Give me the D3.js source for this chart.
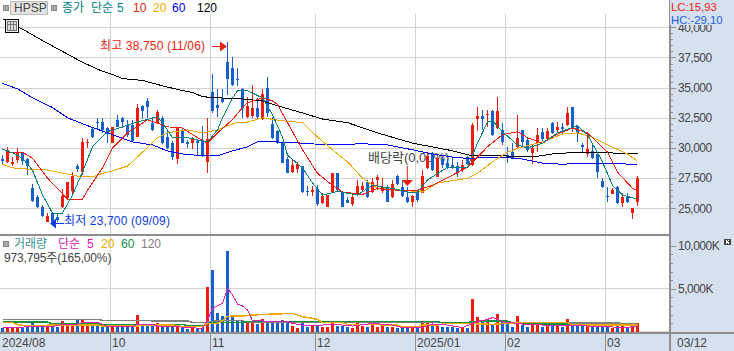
<!DOCTYPE html>
<html>
<head>
<meta charset="utf-8">
<script src="https://cdn.jsdelivr.net/npm/d3@7"></script>
<style>
  html, body { margin: 0; padding: 0; background: #fff; }
  svg { display: block; }
  text { font-family: "Liberation Sans", "Noto Sans CJK KR", sans-serif; font-size: 12px; fill: #444; }
  .crisp { shape-rendering: crispEdges; }
</style>
</head>
<body>
<svg id="chart" width="734" height="351"></svg>
<script>
// daily prices, oldest first
const opens = [29100,28850,28650,29000,29600,29100,26650,25900,25100,23900,24650,24250,25100,25850,26400,28500,28000,30400,31600,32150,32150,31650,30400,32350,32500,31900,31900,30900,33500,33900,32100,32100,32500,30900,30400,29100,31400,30500,30400,30600,30650,28850,34600,33600,34150,37100,36650,35750,34850,32600,32650,33350,32400,35000,32000,31400,30400,29100,28000,28250,28500,26400,26350,26600,25400,25100,26350,27900,26250,25650,25350,26100,26500,27150,26350,27350,26400,26750,25900,27650,26750,25900,25500,26400,26250,28350,29600,27600,29100,28750,28600,28500,28150,29250,28600,32400,32650,32750,33100,31650,31500,29400,29650,30100,31500,30650,29600,30400,31350,30750,32100,31500,31750,31900,33400,31750,30250,29500,29750,29500,27250,26000,26150,26750,25400,26000,24650,25500];
const highs = [29400,30100,29250,30000,29600,29150,27000,26100,25250,24650,24650,24500,26600,27150,28000,28650,30850,30750,31750,32500,32500,31750,31750,32750,32600,32350,32350,33650,33600,34100,32500,33150,32650,31400,30600,31750,31600,30650,30900,30650,31850,32500,36100,34900,34900,38750,37500,36600,35000,34250,35250,34150,34850,35850,32600,31500,30500,29250,29000,28850,28500,26850,26850,26900,26250,26100,27900,27900,26250,25900,26250,27350,27150,27350,27500,27750,27500,26900,27350,27750,27350,26750,26100,26500,28150,29600,29650,29250,29250,29100,29250,28850,29000,29350,32100,33400,33150,33150,33150,34250,32100,30100,30400,32750,31500,30850,30350,31650,31650,31650,32150,32150,32100,33400,33400,31900,30400,31150,30250,29650,27500,26750,26650,26850,26250,26250,25000,27650];
const lows = [28600,28750,28500,28750,28600,27750,25500,25000,24250,23850,23700,23900,25000,25750,26100,28000,27750,30000,30850,31500,31250,30400,30400,31750,31650,30900,30500,30900,32400,32500,31400,32000,30350,29900,29000,28650,30400,30000,29900,29400,29250,27900,32900,32600,33750,34400,35100,35100,32500,32500,32500,32350,32350,32600,30750,30350,28750,27900,27900,27900,26250,26000,26000,25150,25350,25100,26250,26350,25100,25400,25150,26000,26350,25850,26250,26500,26250,25500,25850,26900,25900,25400,25100,25500,26250,28250,28100,27600,28350,28250,28250,27600,28000,28600,28500,31400,31500,31750,31000,31600,30250,28750,29100,30000,30100,29650,28650,29650,30500,30600,31150,31350,31150,31850,31350,30500,29650,29250,29100,27500,26650,25500,26150,25350,25100,25400,24150,25150];
const closes = [28900,29850,28850,29650,28900,28500,25600,25100,24400,24400,23850,24000,26000,27150,27650,28250,30500,30500,30900,32100,31500,31150,31750,31750,32150,31100,30600,33350,33100,33400,31500,33000,30400,30000,29250,31650,30400,30350,30750,30400,29350,30750,33100,33350,33850,35750,35250,35600,33350,33500,33350,32600,34500,32900,30850,30400,28750,27900,28600,28650,26350,26350,26500,25350,26000,26100,27900,26500,25100,25400,25900,26850,26850,25900,27150,27600,26750,25500,27000,27000,26000,25500,26000,25650,27650,29350,28150,29150,28600,28350,28350,28000,28600,28650,31900,32650,32400,32850,31100,33100,30500,29150,29150,30850,30500,29850,30000,31100,30750,31400,31250,31750,31600,32900,31750,31250,30100,29900,29150,28000,26750,25900,26500,25400,25900,25500,25000,27500];

// thousands of shares
const volumes = [470,505,470,470,505,660,1245,660,660,660,585,585,1245,700,855,1440,1440,660,970,1130,585,585,660,505,505,505,505,1945,660,660,660,1050,660,505,585,660,505,310,390,310,390,5250,7190,2215,1865,9410,1945,1360,1360,1165,1165,895,1475,1165,1165,1165,1360,1165,700,465,970,585,700,700,585,585,970,700,700,585,465,1050,700,585,1050,585,700,585,585,465,465,465,465,465,1245,1050,775,775,585,585,585,465,465,465,3810,1750,1280,1165,775,2060,1165,895,505,1825,775,585,775,775,505,660,660,660,505,1475,775,660,775,660,660,660,660,660,430,660,660,430,660,970];

// moving averages as [candle index, value]
const ma5 = [[0,29900],[2,29600],[4,29150],[6,28150],[8,26100],[10,24600],[12,24600],[14,26100],[16,28000],[18,30100],[21,31350],[24,31750],[27,32150],[31,32600],[33,31500],[34,30850],[37,30850],[41,30500],[43,31500],[44,32500],[46,34150],[47,34750],[49,34750],[52,34150],[54,32750],[56,30900],[57,29400],[60,28350],[62,27100],[64,26100],[67,26400],[71,26100],[74,26900],[78,26650],[81,26350],[83,26350],[85,27350],[89,28400],[93,28400],[95,30400],[97,32150],[98,32250],[100,31350],[103,30250],[105,30000],[108,30400],[111,31250],[115,31850],[117,31100],[120,28850],[122,26900],[124,26100],[127,25750]];
const ma10 = [[1,29650],[4,29650],[6,29150],[9,27500],[11,26650],[13,25750],[16,25750],[17,26500],[20,28350],[22,30000],[25,31250],[29,32350],[33,31750],[36,31650],[39,30850],[41,30400],[43,31250],[46,32350],[48,33350],[49,33750],[52,34150],[54,33900],[55,33600],[57,32100],[60,29850],[63,27900],[66,26900],[68,26350],[72,26150],[75,26650],[79,26500],[83,26500],[86,26900],[90,27750],[93,28400],[97,30100],[100,31100],[103,31350],[105,30850],[108,30400],[111,31150],[114,31650],[117,31250],[121,29650],[123,28000],[126,26650],[127,26500]];
const ma20 = [[0,28650],[2,28350],[5,28250],[8,28250],[11,28000],[14,27750],[16,27600],[18,27600],[20,27900],[22,28100],[25,28500],[28,29650],[31,30850],[33,31250],[37,31500],[40,31250],[43,31500],[47,32150],[49,32150],[52,32500],[56,32250],[60,32100],[63,30900],[66,29850],[69,28850],[72,27500],[75,26650],[80,26500],[84,26350],[87,27100],[91,27350],[93,27500],[95,27900],[98,28850],[101,29650],[104,30100],[108,30500],[112,31150],[115,31250],[118,30900],[121,30250],[125,29500],[127,28900]];
const ma60 = [[0,35350],[3,34900],[6,34150],[10,33350],[13,32500],[17,31850],[21,31250],[26,30500],[30,30250],[33,29750],[36,29500],[40,29350],[43,29350],[46,29750],[49,30100],[51,30500],[55,30500],[60,30400],[65,30250],[72,30350],[77,30250],[82,29850],[86,29500],[90,29250],[94,29100],[96,29250],[103,29150],[108,28750],[112,28650],[116,28750],[127,28650]];
const ma120 = [[0,40700],[4,39850],[8,38900],[12,38000],[16,37100],[20,36350],[22,36100],[24,35750],[28,35600],[32,35150],[35,34850],[38,34600],[40,34250],[43,34150],[47,34100],[52,33900],[55,33500],[60,32900],[64,32400],[69,32100],[75,31250],[82,30400],[89,29850],[94,29350],[100,29350],[106,29250],[110,29500],[115,29650],[121,29600],[127,29500]];

const volMa5 = [[0,505],[4,505],[5,660],[9,660],[10,585],[12,855],[15,855],[16,1090],[19,1090],[20,855],[21,585],[26,585],[27,855],[30,855],[31,660],[35,660],[36,505],[38,505],[39,390],[40,390],[41,1360],[42,2720],[44,3300],[45,5050],[46,4270],[47,3225],[48,2990],[49,2525],[50,1280],[57,1165],[58,970],[60,775],[64,775],[66,895],[70,660],[74,970],[78,775],[80,465],[84,465],[86,895],[89,775],[92,465],[94,970],[95,1165],[97,1440],[98,1630],[99,1475],[100,1165],[104,895],[108,775],[114,775],[117,660],[124,505],[127,585]];
const volMa20 = [[0,1050],[2,1050],[3,815],[5,660],[10,775],[19,775],[20,660],[27,660],[28,775],[34,775],[36,585],[40,585],[41,970],[43,970],[44,1280],[45,1790],[48,1825],[50,1940],[53,2020],[58,2135],[60,1750],[63,1440],[64,1050],[68,1050],[69,855],[75,855],[76,775],[79,775],[80,585],[83,585],[84,775],[87,775],[89,970],[94,970],[95,895],[98,855],[104,1090],[113,1090],[114,775],[127,775]];
const volMa60 = [[0,1125],[9,1125],[10,895],[19,895],[20,855],[36,855],[37,700],[40,700],[41,895],[42,1090],[48,1090],[49,1165],[87,1165],[88,1050],[93,1050],[94,1165],[98,1245],[101,1245],[102,1050],[104,1050],[105,895],[113,895],[114,855],[127,855]];
const volMa120 = [[0,1440],[19,1440],[20,1320],[29,1320],[30,1245],[37,1245],[38,1090],[41,1090],[43,1280],[48,1280],[49,1090],[94,1090],[96,1280],[97,1280],[100,1165],[102,1050],[127,970]];

const monthIdx = [22, 42, 63, 83, 101, 121];
const monthLabels = ["10", "11", "12", "2025/01", "02", "03"];
const priceTicks = [25000, 27500, 30000, 32500, 35000, 37500, 40000];
const priceMinor = d3.range(25000, 40500, 500);
const volTicks = [5000, 10000];
const volMinor = d3.range(0, 11000, 1000);

const COLOUR_UP = "#ee1c0c";
const COLOUR_DOWN = "#1560cc";
const COLOUR_GRID = "#d2d2d2";
const COLOUR_PANEL = "#d6e1f0";
const COLOUR_FRAME = "#8e8e8e";

const svg = d3.select("#chart");

const xScale = d3.scaleLinear().domain([0, 127]).range([2.5, 637.5]);
const priceScale = d3.scaleLinear().domain([25000, 40000]).range([208.3, 27.3]);
const volScale = d3.scaleLinear().domain([0, 10000]).range([331.7, 245.7]);

const candleColour = (i) => (closes[i] >= opens[i] ? COLOUR_UP : COLOUR_DOWN);

svg.append("defs").append("clipPath").attr("id", "plotClip")
  .append("rect").attr("x", 0).attr("y", 16).attr("width", 669).attr("height", 218);

// panels
svg.append("rect").attr("class", "crisp").attr("x", 670).attr("y", 0).attr("width", 64).attr("height", 351).attr("fill", COLOUR_PANEL);
svg.append("rect").attr("class", "crisp").attr("x", 0).attr("y", 334).attr("width", 734).attr("height", 17).attr("fill", COLOUR_PANEL);

// grid
const grid = svg.append("g").attr("class", "crisp");
grid.selectAll(".h").data(priceTicks).enter().append("line")
  .attr("x1", 0).attr("x2", 669)
  .attr("y1", (d) => Math.round(priceScale(d)) + 0.5).attr("y2", (d) => Math.round(priceScale(d)) + 0.5)
  .attr("stroke", COLOUR_GRID);
grid.selectAll(".v").data([0, 5000]).enter().append("line")
  .attr("x1", 0).attr("x2", 669)
  .attr("y1", (d) => Math.floor(volScale(d)) + 0.5).attr("y2", (d) => Math.floor(volScale(d)) + 0.5)
  .attr("stroke", COLOUR_GRID);
grid.selectAll(".m").data(monthIdx).enter().append("line")
  .attr("x1", (d) => xScale(d) - 2.5 + 0.5).attr("x2", (d) => xScale(d) - 2.5 + 0.5)
  .attr("y1", 14).attr("y2", 333)
  .attr("stroke", COLOUR_GRID);

// ex-dividend label sits under the candles
svg.append("text").attr("x", 368).attr("y", 162).style("font-size", "13px").text("배당락(0,00%)");

// candles
const idx = d3.range(closes.length);
const candles = svg.append("g").attr("class", "crisp");
candles.selectAll(".wick").data(idx).enter().append("line")
  .attr("x1", (i) => xScale(i)).attr("x2", (i) => xScale(i))
  .attr("y1", (i) => priceScale(highs[i])).attr("y2", (i) => priceScale(lows[i]))
  .attr("stroke", candleColour);
candles.selectAll(".body").data(idx).enter().append("rect")
  .attr("x", (i) => xScale(i) - 1.5).attr("width", 3)
  .attr("y", (i) => priceScale(Math.max(opens[i], closes[i])))
  .attr("height", (i) => Math.max(1, Math.abs(priceScale(opens[i]) - priceScale(closes[i]))))
  .attr("fill", candleColour);

// moving averages
const drawLine = (data, scale, colour, width, clip) =>
  svg.append("path").datum(data).attr("class", "crisp")
    .attr("clip-path", clip ? "url(#plotClip)" : null)
    .attr("fill", "none").attr("stroke", colour).attr("stroke-width", width)
    .attr("d", d3.line().x((d) => xScale(d[0])).y((d) => scale(d[1])));

drawLine(ma120, priceScale, "#000000", 1, true);
drawLine(ma60, priceScale, "#0000ee", 1, true);
drawLine(ma20, priceScale, "#f0a800", 1, true);
drawLine(ma10, priceScale, "#ee1c0c", 1, true);
drawLine(ma5, priceScale, "#00807a", 1, true);

// volume
svg.append("g").attr("class", "crisp").selectAll("rect").data(idx).enter().append("rect")
  .attr("x", (i) => xScale(i) - 1.5).attr("width", 3)
  .attr("y", (i) => volScale(volumes[i]))
  .attr("height", (i) => volScale(0) - volScale(volumes[i]))
  .attr("fill", candleColour);
drawLine(volMa120, volScale, "#808080", 1.5);
drawLine(volMa60, volScale, "#109040", 1.5);
drawLine(volMa20, volScale, "#f0a800", 1.5);
drawLine(volMa5, volScale, "#e020b0", 1);

// frames
const frame = svg.append("g").attr("class", "crisp").attr("stroke", COLOUR_FRAME);
frame.append("line").attr("x1", 0).attr("x2", 670).attr("y1", 235).attr("y2", 235).attr("stroke-width", 2);
frame.append("line").attr("x1", 0).attr("x2", 734).attr("y1", 333).attr("y2", 333).attr("stroke-width", 2);
frame.append("line").attr("x1", 669.5).attr("x2", 669.5).attr("y1", 0).attr("y2", 351).attr("stroke-width", 2);
frame.selectAll(".sep").data(monthIdx).enter().append("line")
  .attr("x1", (d) => xScale(d) - 2.5 + 0.5).attr("x2", (d) => xScale(d) - 2.5 + 0.5)
  .attr("y1", 334).attr("y2", 351);

// right axes
const axisG = (scale, values, size, fmt) => {
  const g = svg.append("g").attr("class", "crisp").attr("transform", "translate(670,0)")
    .call(d3.axisRight(scale).tickValues(values).tickSize(size).tickPadding(2).tickFormat(fmt));
  g.select(".domain").remove();
  g.selectAll("line").attr("stroke", COLOUR_FRAME);
  g.selectAll("text").attr("fill", "#444").style("font-size", "12px").style("letter-spacing", "-0.5px");
  return g;
};
axisG(priceScale, priceMinor, 3, "");
axisG(priceScale, priceTicks, 6, d3.format(","));
axisG(volScale, volMinor, 3, "");
axisG(volScale, volTicks, 6, (d) => d3.format(",")(d) + "K");

// LC/HC box covers the clipped top label
svg.append("rect").attr("class", "crisp").attr("x", 670).attr("y", 0).attr("width", 64).attr("height", 25).attr("fill", COLOUR_PANEL);
svg.append("text").attr("x", 671).attr("y", 11).style("fill", "#ee1c0c").style("font-size", "11.3px").text("LC:15,93");
svg.append("text").attr("x", 671).attr("y", 24).style("fill", "#1560dd").style("font-size", "11.3px").text("HC:-29,10");

// month labels
svg.append("g").selectAll("text").data(monthIdx).enter().append("text")
  .attr("x", (d) => xScale(d) - 2.5 + 2).attr("y", 346.5)
  .text((d, i) => monthLabels[i]);
svg.append("text").attr("x", 2).attr("y", 346.5).text("2024/08");
svg.append("text").attr("x", 677).attr("y", 346.5).text("03/12");

// header
const legendText = (x, y, colour, label) =>
  svg.append("text").attr("x", x).attr("y", y).style("fill", colour).text(label);
const bullet = (x, y) =>
  svg.append("rect").attr("class", "crisp").attr("x", x).attr("y", y).attr("width", 5).attr("height", 5)
    .attr("fill", "#a8a8a8").attr("stroke", "#888");

bullet(3, 5);
svg.append("rect").attr("class", "crisp").attr("x", 10.5).attr("y", 1.5).attr("width", 37).attr("height", 13)
  .attr("fill", "#e4e4e4").attr("stroke", "#bbb");
legendText(14, 12, "#444", "HPSP");
bullet(51, 5);
legendText(62, 12, "#008080", "종가");
legendText(91, 12, "#008080", "단순");
legendText(117, 12, "#008080", "5");
legendText(133, 12, "#ee1c0c", "10");
legendText(153, 12, "#f0a800", "20");
legendText(172, 12, "#0000ee", "60");
legendText(197, 12, "#000", "120");

// table icon
const icon = svg.append("g").attr("class", "crisp");
icon.append("rect").attr("x", 5.5).attr("y", 19.5).attr("width", 13).attr("height", 13)
  .attr("fill", "#eee").attr("stroke", "#000");
icon.append("rect").attr("x", 7.5).attr("y", 21.5).attr("width", 9).attr("height", 9)
  .attr("fill", "#ddd").attr("stroke", "#777");
[10.5, 13.5].forEach((x) => icon.append("line").attr("x1", x).attr("x2", x).attr("y1", 21).attr("y2", 31).attr("stroke", "#777"));
icon.append("line").attr("x1", 7).attr("x2", 17).attr("y1", 24.5).attr("y2", 24.5).attr("stroke", "#777");

// high / low / ex-dividend annotations
const hiY = 46.5, loY = 223.5;
svg.append("text").attr("x", 100).attr("y", 50).style("fill", "#ee1c0c").style("letter-spacing", "0.15px").text("최고 38,750 (11/06)");
svg.append("path").attr("fill", "#ee1c0c").attr("d", d3.line()([[212, hiY - 0.5], [220, hiY - 0.5], [220, hiY - 5], [227, hiY], [220, hiY + 5], [220, hiY + 0.5], [212, hiY + 0.5]]));

svg.append("text").attr("x", 64).attr("y", 225).style("fill", "#0a3ce0").style("letter-spacing", "0.15px").text("최저 23,700 (09/09)");
svg.append("path").attr("fill", "#0a3ce0").attr("d", d3.line()([[64, loY - 0.5], [56, loY - 0.5], [56, loY - 5], [50, loY], [56, loY + 5], [56, loY + 0.5], [64, loY + 0.5]]));

svg.append("path").attr("fill", "#ee1c0c").attr("d", d3.line()([[406.8, 166], [407.8, 166], [407.8, 180], [413, 180], [407.3, 186], [402, 180], [406.8, 180]]));

// volume legend
bullet(3, 241);
legendText(14, 248, "#3a9090", "거래량");
legendText(58, 248, "#e020b0", "단순");
legendText(87, 248, "#e020b0", "5");
legendText(101, 248, "#f0a800", "20");
legendText(121, 248, "#109040", "60");
legendText(141, 248, "#808080", "120");
legendText(4, 262, "#444", "973,795주(165,00%)").style("letter-spacing", "-0.15px");

// panel resize icon
const zoomIcon = svg.append("g").attr("class", "crisp");
zoomIcon.append("rect").attr("x", 724).attr("y", 239).attr("width", 7).attr("height", 6).attr("fill", "#444");
zoomIcon.append("path").attr("d", "M726 240L729 244M729 240L726 244").attr("stroke", "#fff").attr("fill", "none");
</script>
</body>
</html>
